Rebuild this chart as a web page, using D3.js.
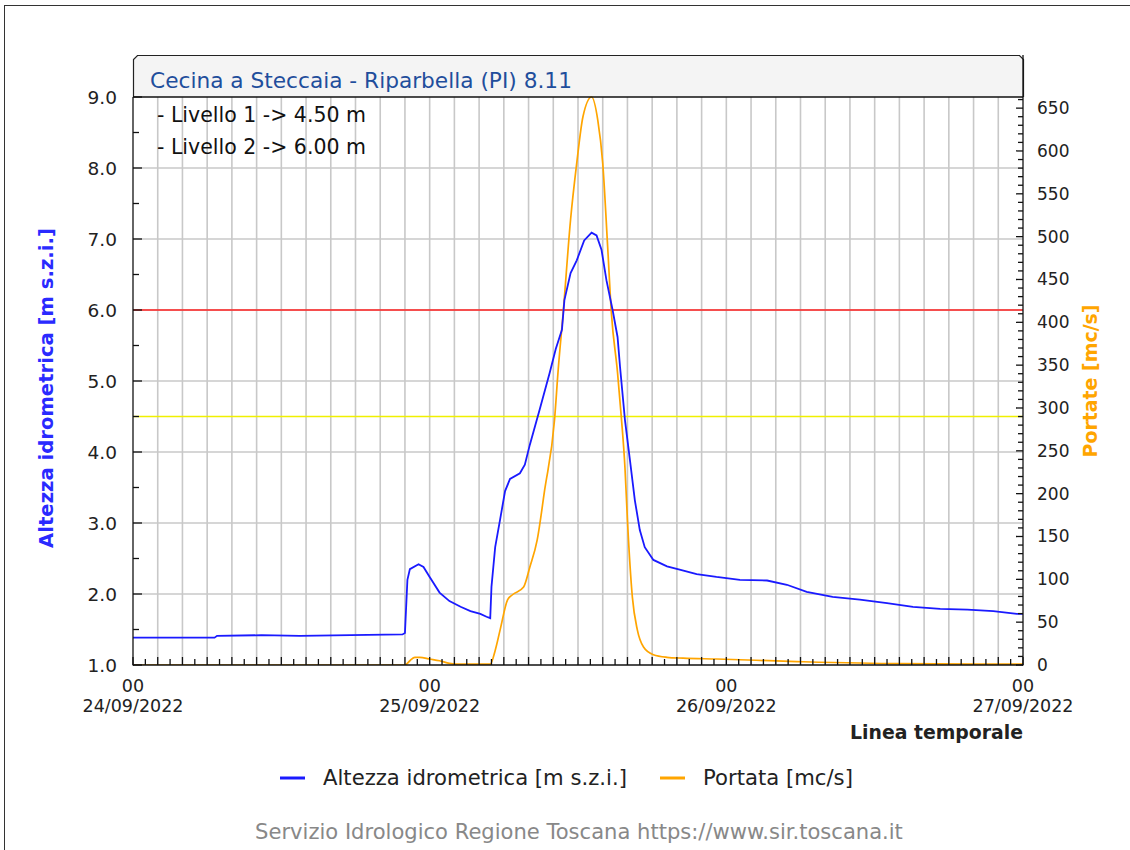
<!DOCTYPE html>
<html><head><meta charset="utf-8">
<script src="https://cdn.jsdelivr.net/npm/d3@7"></script>
<style>
html,body{margin:0;padding:0;background:#fff;}
svg{display:block;}
text{font-family:"DejaVu Sans",sans-serif;}
</style></head>
<body>
<script>
// Hours since 24/09/2022 00:00
const levelHours = [0,6.6,6.8,10.4,13.5,17.6,21.8,22.0,22.2,22.4,23.1,23.5,24.0,24.8,25.6,26.5,27.3,28.1,28.6,28.9,29.0,29.3,29.7,30.1,30.5,31.3,31.7,32.1,32.9,33.7,34.2,34.7,34.9,35.4,35.9,36.5,37.1,37.5,37.9,38.3,38.8,39.2,39.4,39.8,40.2,40.6,41.0,41.4,42.1,43.2,44.3,45.6,47.2,49.1,51.3,52.9,54.5,56.6,58.8,61.0,63.1,65.3,67.5,69.6,71.5,72];
const levelValues = [1.385,1.385,1.41,1.42,1.41,1.42,1.43,1.45,2.2,2.35,2.42,2.38,2.24,2.02,1.9,1.82,1.76,1.72,1.68,1.66,2.1,2.66,3.05,3.45,3.62,3.7,3.82,4.1,4.6,5.11,5.45,5.72,6.14,6.52,6.70,6.98,7.09,7.05,6.85,6.42,6.0,5.62,5.2,4.45,3.89,3.32,2.9,2.66,2.48,2.39,2.34,2.28,2.24,2.2,2.19,2.13,2.03,1.96,1.92,1.87,1.82,1.79,1.78,1.76,1.72,1.72];
const flowHours = [0,22.0,22.4,22.8,23.2,24.0,24.8,25.6,26.5,28.9,29.3,29.7,30.3,30.7,31.6,32.1,32.7,33.3,34.1,34.4,34.8,35.4,35.9,36.4,37.1,37.6,38.0,38.4,38.7,39.2,39.5,39.8,40.0,40.4,40.8,41.3,42.1,43.2,44.5,47.2,53.7,62.0,72];
const flowValues = [0,0,5,9,9,7,5,2,1,1,17,41,76,82,91,114,146,204,286,345,411,520,586,640,663,636,586,488,411,341,290,230,169,79,41,21,12,9,8,7,4,1.5,1];
const thresholds = [4.5, 6.0];
const thresholdLabels = ["- Livello 1 -> 4.50 m","- Livello 2 -> 6.00 m"];
const leftTicks = [1,2,3,4,5,6,7,8,9];
const rightTicks = [0,50,100,150,200,250,300,350,400,450,500,550,600,650];
const dayTickHours = [0,24,48,72];
const dayTickLabels = ["24/09/2022","25/09/2022","26/09/2022","27/09/2022"];
const titleText = "Cecina a Steccaia - Riparbella (PI) 8.11";
const seriesNames = ["Altezza idrometrica [m s.z.i.]","Portata [mc/s]"];

const W=1130,H=850;
const L=133,R=1023,T=97,B=665;
const svg=d3.select("body").append("svg").attr("width",W).attr("height",H);
svg.append("rect").attr("x",4.5).attr("y",5.5).attr("width",1140).attr("height",860).attr("fill","#fff").attr("stroke","#333").attr("stroke-width",1);

function fit(sel, target){
  const fs=+sel.attr("font-size");
  const w=sel.node().getComputedTextLength();
  if(w>0) sel.attr("font-size",(fs*target/w).toFixed(2));
  return sel;
}

const x=d3.scaleLinear().domain([0,72]).range([L,R]);
const yL=d3.scaleLinear().domain([1,9]).range([B,T]);
const yR=d3.scaleLinear().domain([0,663]).range([B,T]);

// title box with chamfered top corners
const c=4;
svg.append("path").attr("d",`M${L+0.5},${T} L${L+0.5},${55.5+c} L${L+0.5+c},55.5 L${R+0.5-c},55.5 L${R+0.5},${55.5+c} L${R+0.5},${T}`)
  .attr("fill","#f4f4f4").attr("stroke","#222").attr("stroke-width",1.2);
fit(svg.append("text").attr("x",150).attr("y",88).attr("fill","#1f4e9c").attr("font-size",20).text(titleText),422);

// gridlines
const g=svg.append("g");
g.selectAll("line.v").data(d3.range(2,72,2)).join("line")
  .attr("x1",d=>x(d)).attr("x2",d=>x(d)).attr("y1",T).attr("y2",B)
  .attr("stroke","#c8c8c8").attr("stroke-width",1.6);
g.selectAll("line.h").data(leftTicks.slice(1,-1)).join("line")
  .attr("x1",L).attr("x2",R).attr("y1",d=>yL(d)).attr("y2",d=>yL(d))
  .attr("stroke","#c8c8c8").attr("stroke-width",1.6);

// thresholds
g.append("line").attr("x1",L).attr("x2",R).attr("y1",yL(thresholds[1])).attr("y2",yL(thresholds[1])).attr("stroke","#ff2020").attr("stroke-width",1.5);
g.append("line").attr("x1",L).attr("x2",R).attr("y1",yL(thresholds[0])).attr("y2",yL(thresholds[0])).attr("stroke","#f0f000").attr("stroke-width",1.5);

thresholdLabels.forEach((t,i)=>{
  fit(svg.append("text").attr("x",157).attr("y",122+i*32).attr("font-size",19).attr("fill","#111").text(t),209);
});

// lines
svg.append("clipPath").attr("id","clp").append("rect").attr("x",L).attr("y",T-1).attr("width",R-L).attr("height",B-T+1);
svg.append("path").datum(flowHours.map((h,i)=>[h,flowValues[i]]))
  .attr("clip-path","url(#clp)")
  .attr("d",d3.line().x(d=>x(d[0])).y(d=>yR(d[1])).curve(d3.curveMonotoneX))
  .attr("fill","none").attr("stroke","#ffa500").attr("stroke-width",1.7);
svg.append("path").datum(levelHours.map((h,i)=>[h,levelValues[i]]))
  .attr("clip-path","url(#clp)")
  .attr("d",d3.line().x(d=>x(d[0])).y(d=>yL(d[1])))
  .attr("fill","none").attr("stroke","#1a1aff").attr("stroke-width",1.8);

// axes
const ax=svg.append("g").attr("stroke","#111").attr("stroke-width",1.3);
ax.append("line").attr("x1",L).attr("x2",L).attr("y1",T).attr("y2",B+0.5);
ax.append("line").attr("x1",R).attr("x2",R).attr("y1",55).attr("y2",B+0.5);
ax.append("line").attr("x1",L).attr("x2",R).attr("y1",B).attr("y2",B);
ax.append("line").attr("x1",L).attr("x2",R).attr("y1",T).attr("y2",T);
ax.selectAll("line.lt").data(d3.range(1,9.01,0.5)).join("line")
  .attr("x1",L).attr("x2",d=>L+(Math.abs(d-Math.round(d))<0.01?9:6)).attr("y1",d=>yL(d)).attr("y2",d=>yL(d));
ax.selectAll("line.rt").data(d3.range(0,661,10)).join("line")
  .attr("x1",R).attr("x2",d=>R-(d%50===0?7:5)).attr("y1",d=>yR(d)).attr("y2",d=>yR(d));
ax.selectAll("line.bt").data(d3.range(0,73,1)).join("line")
  .attr("x1",d=>x(d)).attr("x2",d=>x(d)).attr("y1",B).attr("y2",d=>B-(d%2===0?8:6));

// tick labels
svg.selectAll("text.ll").data(leftTicks).join("text")
  .attr("x",117).attr("y",d=>yL(d)+7).attr("text-anchor","end").attr("font-size",18.5).attr("fill","#222")
  .text(d=>d3.format(".1f")(d));
svg.selectAll("text.rl").data(rightTicks).join("text")
  .attr("x",1037).attr("y",d=>yR(d)+6).attr("font-size",17).attr("fill","#222").text(d=>d);
svg.selectAll("text.x1").data(dayTickHours).join("text")
  .attr("x",d=>x(d)).attr("y",692).attr("text-anchor","middle").attr("font-size",17.5).attr("fill","#222").text("00");
svg.selectAll("text.x2").data(dayTickHours).join("text")
  .attr("x",d=>x(d)).attr("y",712).attr("text-anchor","middle").attr("font-size",17.5).attr("fill","#222").text((d,i)=>dayTickLabels[i]);
fit(svg.append("text").attr("x",R).attr("y",739).attr("text-anchor","end").attr("font-size",18).attr("font-weight","bold").attr("fill","#222").text("Linea temporale"),173);

// axis titles
fit(svg.append("text").attr("transform","translate(53,388) rotate(-90)").attr("text-anchor","middle").attr("font-size",19).attr("font-weight","bold").attr("fill","#2a2aff").text("Altezza idrometrica [m s.z.i.]"),320);
fit(svg.append("text").attr("transform","translate(1097,381) rotate(-90)").attr("text-anchor","middle").attr("font-size",19).attr("font-weight","bold").attr("fill","#ffa500").text("Portate [mc/s]"),153);

// legend
const legColors=["#1a1aff","#ffa500"], legX=[280,660], legW=[304,150];
seriesNames.forEach((t,i)=>{
  svg.append("line").attr("x1",legX[i]).attr("x2",legX[i]+25).attr("y1",778).attr("y2",778).attr("stroke",legColors[i]).attr("stroke-width",3);
  fit(svg.append("text").attr("x",legX[i]+43).attr("y",785).attr("font-size",19).attr("fill","#222").text(t),legW[i]);
});
fit(svg.append("text").attr("x",579).attr("y",839).attr("text-anchor","middle").attr("font-size",19).attr("fill","#888").text("Servizio Idrologico Regione Toscana https://www.sir.toscana.it"),648);
</script>
</body></html>
